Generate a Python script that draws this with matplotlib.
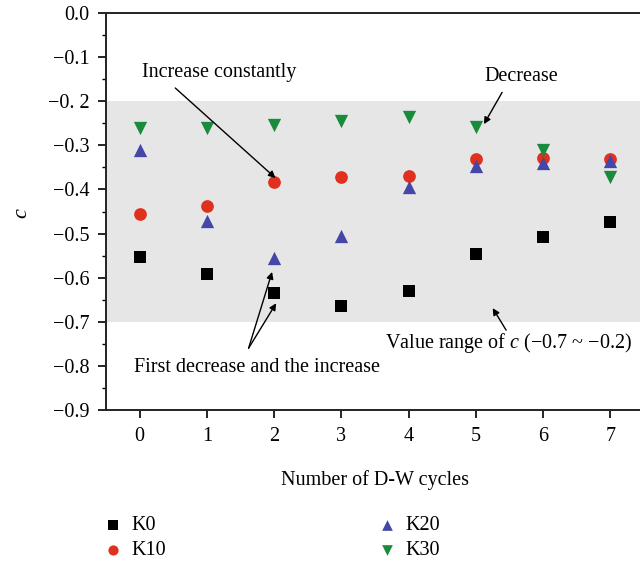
import matplotlib
matplotlib.use("Agg")
import matplotlib.pyplot as plt
from matplotlib.ticker import MultipleLocator

plt.rcParams['font.family'] = ['Liberation Serif', 'DejaVu Serif']
plt.rcParams['mathtext.fontset'] = 'custom'
plt.rcParams['mathtext.it'] = 'Liberation Serif:italic'

cycles = [0, 1, 2, 3, 4, 5, 6, 7]
K0 = [-0.553, -0.592, -0.635, -0.664, -0.630, -0.546, -0.508, -0.474]
K10 = [-0.456, -0.438, -0.383, -0.372, -0.370, -0.331, -0.329, -0.331]
K20 = [-0.310, -0.472, -0.556, -0.506, -0.395, -0.347, -0.340, -0.336]
K30 = [-0.261, -0.261, -0.254, -0.245, -0.236, -0.259, -0.311, -0.372]
ytick_vals = [0.0, -0.1, -0.2, -0.3, -0.4, -0.5, -0.6, -0.7, -0.8, -0.9]
ytick_labels = ["0.0", "\u22120.1", "\u22120. 2", "\u22120.3", "\u22120.4", "\u22120.5",
                "\u22120.6", "\u22120.7", "\u22120.8", "\u22120.9"]
band = (-0.7, -0.2)

fig = plt.figure(figsize=(6.4, 5.67), dpi=100)
ax = fig.add_axes([106/640, 1-410/567, (644-106)/640, (410-13)/567])

ax.axhspan(band[0], band[1], color='#e6e6e6', zorder=0, lw=0)

ms = 80
ax.scatter(cycles, K0, marker='s', s=ms*0.85, color='#000000', label='K0', zorder=3, lw=0)
ax.scatter(cycles, K10, marker='o', s=ms*1.05, color='#e0301e', label='K10', zorder=3, lw=0)
ax.scatter(cycles, K20, marker='^', s=ms*1.15, color='#4446a8', label='K20', zorder=3, lw=0)
ax.scatter(cycles, K30, marker='v', s=ms*1.15, color='#1a8a3c', label='K30', zorder=3, lw=0)

ax.set_xlim(-0.5, 7.5)
ax.set_ylim(-0.9, 0.0)
ax.set_xticks(cycles)
ax.set_yticks(ytick_vals)
ax.set_yticklabels(ytick_labels)
ax.yaxis.set_minor_locator(MultipleLocator(0.05))
ax.tick_params(axis='both', which='major', direction='out', length=6, width=1.2, labelsize=14.5, pad=6)
ax.tick_params(axis='y', which='minor', direction='out', length=3, width=1.0)
ax.spines['right'].set_visible(False)
for s in ['left', 'top', 'bottom']:
    ax.spines[s].set_linewidth(1.4)
    ax.spines[s].set_color('#222222')

ax.set_xlabel("Number of D-W cycles", fontsize=14.5)
ax.xaxis.set_label_coords((375-106)/538, -0.152)
ax.set_ylabel("$c$", fontsize=16, rotation=90)
ax.yaxis.set_label_coords(-0.137, 0.495)

ap = dict(arrowstyle='-|>', color='black', lw=1.0, mutation_scale=10, shrinkA=0, shrinkB=0)
fs = 14.5
ax.text(1.18, -0.135, "Increase constantly", fontsize=fs, ha='center', va='center')
ax.annotate("", xy=(2.02, -0.374), xytext=(0.53, -0.170), arrowprops=ap)
ax.text(5.68, -0.145, "Decrease", fontsize=fs, ha='center', va='center')
ax.annotate("", xy=(5.12, -0.252), xytext=(5.39, -0.180), arrowprops=ap)
ax.text(1.75, -0.803, "First decrease and the increase", fontsize=fs, ha='center', va='center')
ax.annotate("", xy=(1.97, -0.587), xytext=(1.62, -0.760), arrowprops=ap)
ax.annotate("", xy=(2.03, -0.658), xytext=(1.62, -0.760), arrowprops=ap)
ax.text(5.49, -0.748, "Value range of $c$ (\u22120.7 ~ \u22120.2)", fontsize=fs, ha='center', va='center')
ax.annotate("", xy=(5.25, -0.669), xytext=(5.45, -0.719), arrowprops=ap)

h, l = ax.get_legend_handles_labels()
fig.legend(h, l, ncol=2, loc='upper left', bbox_to_anchor=(83/640, 1-498/567),
           frameon=False, fontsize=14.5, columnspacing=10.4, handletextpad=0.3,
           labelspacing=0.3, handlelength=1.2, markerscale=0.8)

fig.savefig("out.png", dpi=100)
